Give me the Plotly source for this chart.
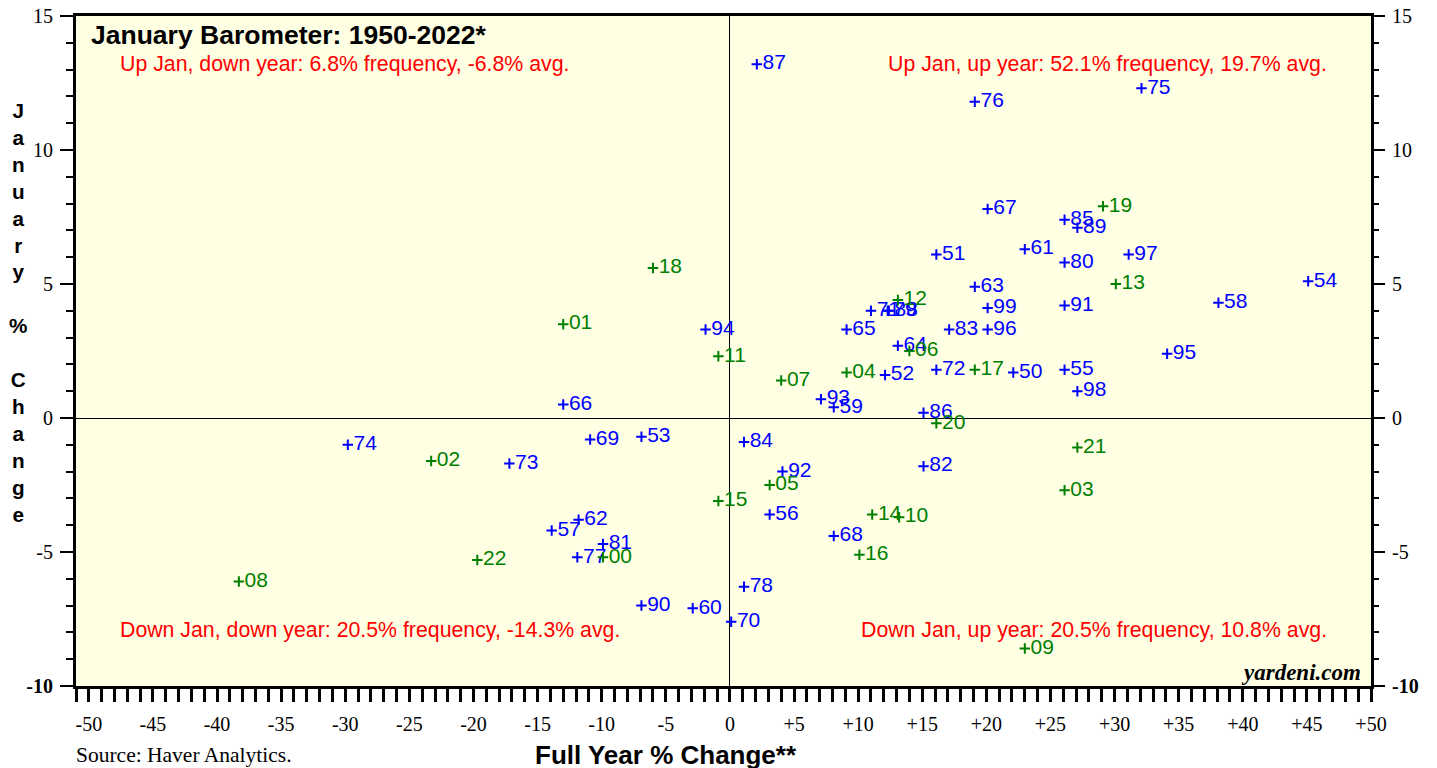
import plotly.graph_objects as go

# ---------------- data ----------------
years = [1950, 1951, 1952, 1953, 1954, 1955, 1956, 1957, 1958, 1959,
         1960, 1961, 1962, 1963, 1964, 1965, 1966, 1967, 1968, 1969,
         1970, 1971, 1972, 1973, 1974, 1975, 1976, 1977, 1978, 1979,
         1980, 1981, 1982, 1983, 1984, 1985, 1986, 1987, 1988, 1989,
         1990, 1991, 1992, 1993, 1994, 1995, 1996, 1997, 1998, 1999,
         2000, 2001, 2002, 2003, 2004, 2005, 2006, 2007, 2008, 2009,
         2010, 2011, 2012, 2013, 2014, 2015, 2016, 2017, 2018, 2019,
         2020, 2021, 2022]

full_year_pct = [22.1, 16.1, 12.1, -6.9, 45.1, 26.1, 3.1, -13.9, 38.1, 8.1,
                 -2.9, 23.0, -11.8, 19.1, 13.1, 9.1, -13.0, 20.1, 8.1, -10.9,
                 0.1, 11.0, 16.1, -17.2, -29.8, 32.1, 19.1, -11.9, 1.1, 12.3,
                 26.1, -9.9, 15.1, 17.1, 1.1, 26.1, 15.1, 2.1, 12.4, 27.1,
                 -6.9, 26.1, 4.1, 7.1, -1.9, 34.1, 20.1, 31.1, 27.1, 20.1,
                 -9.9, -13.0, -23.3, 26.1, 9.1, 3.1, 14.0, 4.0, -38.3, 23.0,
                 13.2, -0.9, 13.1, 30.1, 11.1, -0.9, 10.1, 19.1, -6.0, 29.1,
                 16.1, 27.1, -19.7]

january_pct = [1.7, 6.1, 1.6, -0.7, 5.1, 1.8, -3.6, -4.2, 4.3, 0.4,
               -7.1, 6.3, -3.8, 4.9, 2.7, 3.3, 0.5, 7.8, -4.4, -0.8,
               -7.6, 4.0, 1.8, -1.7, -1.0, 12.3, 11.8, -5.2, -6.3, 4.0,
               5.8, -4.7, -1.8, 3.3, -0.9, 7.4, 0.2, 13.2, 4.0, 7.1,
               -7.0, 4.2, -2.0, 0.7, 3.3, 2.4, 3.3, 6.1, 1.0, 4.1,
               -5.2, 3.5, -1.6, -2.7, 1.7, -2.5, 2.5, 1.4, -6.1, -8.6,
               -3.7, 2.3, 4.4, 5.0, -3.6, -3.1, -5.1, 1.8, 5.6, 7.9,
               -0.2, -1.1, -5.3]

x_tick_values = list(range(-51, 51))
x_tick_labels = [("0" if v == 0 else (f"+{v}" if v > 0 else f"{v}")) if v % 5 == 0 else ""
                 for v in x_tick_values]
y_tick_values = [-10, -5, 0, 5, 10, 15]
y_tick_labels = ["<b>-10</b>", "-5", "0", "5", "10", "15"]

quadrant_notes = [
    "Up Jan, down year: 6.8% frequency, -6.8% avg.",
    "Up Jan, up year: 52.1% frequency, 19.7% avg.",
    "Down Jan, down year: 20.5% frequency, -14.3% avg.",
    "Down Jan, up year: 20.5% frequency, 10.8% avg.",
]

# ---------------- figure ----------------
SANS = "Liberation Sans, Arial, sans-serif"
SERIF = "Liberation Serif, Times New Roman, serif"
BLUE = "#0000FF"
GREEN = "#008000"
RED = "#FF0000"

fig = go.Figure()

groups = [
    ([i for i, y in enumerate(years) if y < 2000], BLUE),
    ([i for i, y in enumerate(years) if y >= 2000], GREEN),
]
for idx, col in groups:
    fig.add_trace(go.Scatter(
        x=[full_year_pct[i] for i in idx],
        y=[january_pct[i] for i in idx],
        text=[f"{years[i] % 100:02d}" for i in idx],
        mode="markers+text",
        textposition="middle right",
        textfont=dict(family=SANS, size=21, color=col),
        marker=dict(symbol="cross-thin", size=7.5, color=col,
                    line=dict(width=2, color=col)),
        hoverinfo="skip",
        showlegend=False,
        cliponaxis=False,
    ))

# invisible trace so the right-hand axis is drawn
fig.add_trace(go.Scatter(x=[0], y=[0], yaxis="y2", mode="markers",
                         marker=dict(opacity=0), hoverinfo="skip",
                         showlegend=False))

axis_common = dict(showgrid=False, zeroline=True, zerolinecolor="black",
                   zerolinewidth=1.3, showline=True, linecolor="black",
                   linewidth=3, mirror=True, automargin=False)

fig.update_layout(
    width=1437, height=768, autosize=False,
    margin=dict(l=76, r=66, t=16, b=82),
    paper_bgcolor="white",
    plot_bgcolor="#FFFFE3",
    xaxis=dict(range=[-51, 50], tickmode="array", tickvals=x_tick_values,
               ticktext=x_tick_labels, ticks="outside", ticklen=13,
               tickwidth=2.5, tickcolor="black",
               tickfont=dict(family=SERIF, size=20, color="black"),
               ticklabelstandoff=5, **axis_common),
    yaxis=dict(range=[-10, 15], tickmode="array", tickvals=y_tick_values,
               ticktext=y_tick_labels, ticks="outside", ticklen=13,
               tickwidth=2, tickcolor="black",
               tickfont=dict(family=SERIF, size=20, color="black"),
               ticklabelstandoff=3,
               minor=dict(dtick=1, ticks="outside", ticklen=7, tickwidth=2,
                          tickcolor="black", showgrid=False),
               **axis_common),
    yaxis2=dict(overlaying="y", side="right", matches="y", range=[-10, 15],
                tickmode="array", tickvals=y_tick_values,
                ticktext=y_tick_labels, ticks="outside", ticklen=13,
                tickwidth=2, tickcolor="black",
                tickfont=dict(family=SERIF, size=20, color="black"),
                ticklabelstandoff=3, automargin=False,
                minor=dict(dtick=1, ticks="outside", ticklen=7, tickwidth=2,
                           tickcolor="black", showgrid=False),
                showgrid=False, zeroline=False, showline=False),
)

ann = []
ann.append(dict(text="<b>January Barometer: 1950-2022*</b>", xref="paper", yref="paper",
                x=0, y=1, xanchor="left", yanchor="middle", xshift=13, yshift=-19,
                showarrow=False, font=dict(family=SANS, size=26.5, color="black")))
ann.append(dict(text=quadrant_notes[0], xref="paper", yref="paper", x=0, y=1,
                xanchor="left", yanchor="middle", xshift=42, yshift=-48,
                showarrow=False, font=dict(family=SANS, size=21.3, color=RED)))
ann.append(dict(text=quadrant_notes[1], xref="paper", yref="paper", x=1, y=1,
                xanchor="right", yanchor="middle", xshift=-42, yshift=-48,
                showarrow=False, font=dict(family=SANS, size=21.3, color=RED)))
ann.append(dict(text=quadrant_notes[2], xref="paper", yref="paper", x=0, y=0,
                xanchor="left", yanchor="middle", xshift=42, yshift=56,
                showarrow=False, font=dict(family=SANS, size=21.3, color=RED)))
ann.append(dict(text=quadrant_notes[3], xref="paper", yref="paper", x=1, y=0,
                xanchor="right", yanchor="middle", xshift=-42, yshift=56,
                showarrow=False, font=dict(family=SANS, size=21.3, color=RED)))
ann.append(dict(text="<b><i>yardeni.com</i></b>", xref="paper", yref="paper", x=1, y=0,
                xanchor="right", yanchor="middle", xshift=-8, yshift=14,
                showarrow=False, font=dict(family=SERIF, size=23, color="black")))
ann.append(dict(text="<b>Full Year % Change**</b>", xref="paper", yref="paper",
                x=(666 - 76) / 1295, y=0, xanchor="center", yanchor="middle",
                yshift=-69, showarrow=False,
                font=dict(family=SANS, size=26, color="black")))
ann.append(dict(text="Source: Haver Analytics.", xref="paper", yref="paper", x=0, y=0,
                xanchor="left", yanchor="middle", xshift=-2, yshift=-69,
                showarrow=False, font=dict(family=SERIF, size=21.5, color="black")))
ytitle = "<br>".join(list("January") + [" ", "%", " "] + list("Change"))
ann.append(dict(text="<b>" + ytitle + "</b>", xref="paper", yref="paper", x=0,
                y=(686 - 312) / 670, xanchor="center", yanchor="middle", xshift=-58,
                showarrow=False, font=dict(family=SANS, size=20.7, color="black")))
fig.update_layout(annotations=ann)

fig.write_html(
    "out.html",
    config={"displayModeBar": False},
    post_script="document.body.style.margin='0px';document.body.style.overflow='hidden';",
)
